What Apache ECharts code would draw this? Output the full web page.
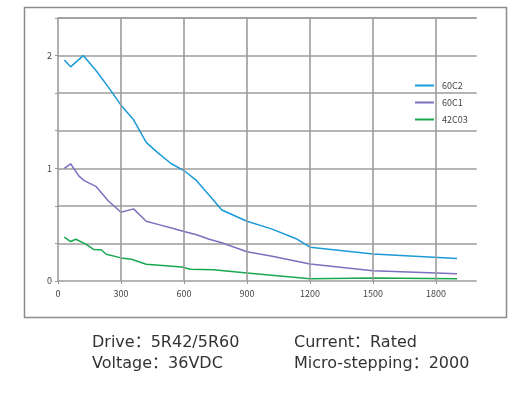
<!DOCTYPE html>
<html><head><meta charset="utf-8">
<script src="https://cdn.jsdelivr.net/npm/echarts@6/dist/echarts.min.js"></script>
<style>html,body{margin:0;padding:0;background:#fff}#c{width:526px;height:393px}</style>
</head><body><div id="c"></div>
<script>
const names = ['60C2', '60C1', '42C03'];
const s60C2 = [[30,1.96],[60,1.90],[120,2.0],[180,1.87],[240,1.72],[300,1.56],[360,1.43],[420,1.23],[480,1.13],[540,1.04],[600,0.98],[660,0.89],[720,0.76],[780,0.63],[900,0.53],[1020,0.46],[1140,0.37],[1200,0.30],[1500,0.24],[1900,0.20]];
const s60C1 = [[30,1.0],[60,1.04],[100,0.93],[125,0.89],[180,0.84],[240,0.71],[300,0.61],[360,0.64],[420,0.53],[480,0.50],[540,0.47],[600,0.44],[660,0.41],[720,0.37],[780,0.34],[900,0.26],[1020,0.22],[1200,0.15],[1500,0.09],[1900,0.065]];
const s42C03 = [[30,0.39],[60,0.35],[85,0.37],[130,0.33],[170,0.28],[205,0.277],[230,0.237],[300,0.205],[350,0.193],[420,0.148],[590,0.124],[630,0.104],[740,0.10],[900,0.071],[1200,0.02],[1500,0.027],[1900,0.02]];
const xTicks = [0,300,600,900,1200,1500,1800];
const yLabels = [0,1,2];
const infoLines = [['Drive：5R42/5R60','Current：Rated'],['Voltage：36VDC','Micro-stepping：2000']];
const colors = ['#1b9ad8','#7a70bd','#17a84e'];

const chart = echarts.init(document.getElementById('c'));
const txtFont = '"Noto Sans CJK SC","Noto Sans",sans-serif';
const infoFont = '16px "DejaVu Sans","Noto Sans CJK SC",sans-serif';
const gridColor = '#9c9c9c';
chart.setOption({
  animation:false,
  color: colors,
  grid: {left:58, right:48, top:18, bottom:112},
  legend: {
    orient:'vertical', left:415, top:81, itemWidth:19, itemHeight:2, itemGap:8, padding:0,
    icon:'rect',
    textStyle:{fontSize:9, color:'#444', fontFamily:txtFont, padding:[0,0,0,3]},
    data: names
  },
  xAxis: {
    type:'value', min:0, max:2000, interval:300,
    axisLine:{show:false},
    axisTick:{show:true, length:3, lineStyle:{color:'#999'}},
    axisLabel:{fontSize:9, color:'#444', margin:8, fontFamily:txtFont,
      formatter: v => xTicks.includes(v) ? String(v) : ''},
    splitLine:{show:false}
  },
  yAxis: {
    type:'value', min:0, max:7/3, interval:1/3,
    axisLine:{show:true, lineStyle:{color:gridColor, width:1.6}},
    axisTick:{show:true, length:3, lineStyle:{color:'#999'}},
    axisLabel:{fontSize:9, color:'#444', margin:6, fontFamily:txtFont,
      formatter: v => { const r = Math.round(v); return (Math.abs(v-r)<1e-6 && yLabels.includes(r)) ? String(r) : ''; }},
    splitLine:{show:true, lineStyle:{color:gridColor, width:1.6}}
  },
  graphic: [
    {type:'rect', shape:{x:24.5, y:7.5, width:482, height:310}, style:{fill:null, stroke:'#8c8c8c', lineWidth:1.5}, silent:true},
    {type:'rect', z:100, shape:{x:476.8, y:14, width:6, height:275}, style:{fill:'#fff'}, silent:true},
    ...infoLines.flatMap((row, i) => [
      {type:'text', x:92, y:343 + i*21, style:{text:row[0], font:infoFont, fill:'#333', verticalAlign:'middle'}},
      {type:'text', x:294, y:343 + i*21, style:{text:row[1], font:infoFont, fill:'#333', verticalAlign:'middle'}}
    ])
  ],
  series: [
    {name:names[0], type:'line', data:s60C2, showSymbol:false, lineStyle:{width:1.5},
      markLine:{silent:true, symbol:'none', label:{show:false},
        lineStyle:{color:gridColor, width:1.6, type:'solid'},
        data: xTicks.filter(v => v > 0).map(v => ({xAxis:v}))}},
    {name:names[1], type:'line', data:s60C1, showSymbol:false, lineStyle:{width:1.5}},
    {name:names[2], type:'line', data:s42C03, showSymbol:false, lineStyle:{width:1.5}}
  ]
});
</script></body></html>
